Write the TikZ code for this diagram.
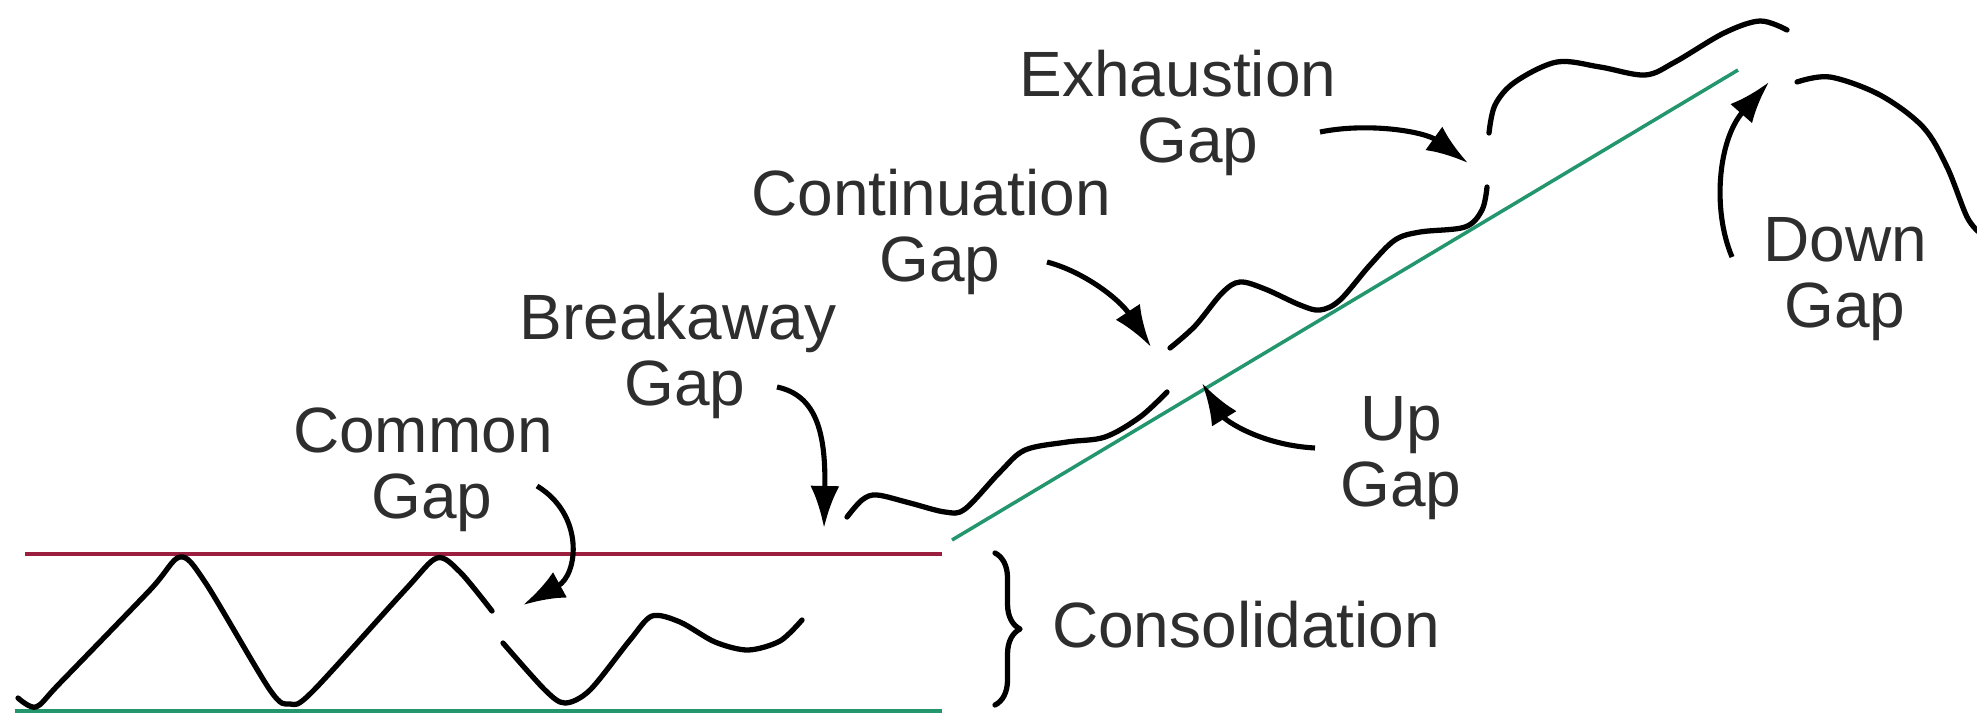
\documentclass[tikz,border=0pt]{standalone}
\usepackage{fontspec}
\setmainfont{Liberation Sans}
\usetikzlibrary{arrows.meta,decorations.pathreplacing}
\definecolor{resist}{RGB}{155,30,62}
\definecolor{support}{RGB}{35,150,110}
\begin{document}
\begin{tikzpicture}[x=0.01cm,y=-0.01cm,
  price/.style={line width=1.5pt,line cap=round,line join=round},
  gaparrow/.style={line width=1.45pt,-{Latex[length=0.42cm,width=0.29cm]}},
  lbl/.style={font=\fontsize{18.2}{18.7}\selectfont,align=center,inner sep=0pt,text=black!82},
  level/.style={line width=1pt}]
\useasboundingbox (0,0) rectangle (1977,715);

% support / resistance lines
\coordinate (rL) at (25,554);  \coordinate (rR) at (942,554);
\coordinate (sL) at (15,711);  \coordinate (sR) at (942,711);
\coordinate (tL) at (952,540); \coordinate (tR) at (1738,70);
\draw[level,resist] (rL) -- (rR);
\draw[level,support] (sL) -- (sR);
\draw[level,support] (tL) -- (tR);

% price path segments
\draw[price] plot[smooth,tension=0.5] coordinates {(18,698) (36,707) (60,683) (150,590) (180,557) (205,582) (270,690) (290,704) (312,692) (405,590) (437,558) (460,572) (492,611)};
\draw[price] plot[smooth,tension=0.5] coordinates {(503,643) (545,690) (565,703) (590,690) (630,640) (652,616) (680,622) (715,642) (748,650) (780,641) (802,620)};
\draw[price] plot[smooth,tension=0.55] coordinates {(847,517) (862,500) (877,495) (910,503) (945,512) (965,509) (1000,472) (1025,450) (1067,442) (1105,437) (1140,417) (1167,392)};
\draw[price] plot[smooth,tension=0.55] coordinates {(1170,348) (1195,326) (1222,293) (1240,282) (1265,289) (1300,305) (1320,310) (1340,300) (1370,265) (1395,240) (1420,232) (1465,227) (1482,210) (1487,187)};
\draw[price] plot[smooth,tension=0.55] coordinates {(1489,133) (1495,105) (1515,82) (1557,62) (1600,67) (1645,75) (1675,62) (1724,33) (1760,21) (1787,30)};
\draw[price] plot[smooth,tension=0.55] coordinates {(1797,82) (1830,77) (1880,95) (1923,127) (1947,167) (1967,217) (1980,233)};

% brace
\coordinate (bT) at (995,553); \coordinate (bB) at (995,705);
\draw[price,decorate,decoration={brace,amplitude=0.25cm}] (bT) -- (bB);

% labels
\node[lbl] (common) at (423,470) {Common\\\hspace*{0.18cm}Gap};
\node[lbl] (breakaway) at (678,356) {Breakaway\\\hspace*{0.14cm}Gap};
\node[lbl] (continuation) at (931,232) {Continuation\\\hspace*{0.18cm}Gap};
\node[lbl] (exhaustion) at (1178,113) {Exhaustion\\\hspace*{0.4cm}Gap};
\node[lbl] (up) at (1401,458) {Up\\Gap};
\node[lbl] (down) at (1845,279) {Down\\Gap};
\node[lbl] (consol) at (1246,625) {Consolidation};

% arrows
\coordinate (cgS) at (537,486);  \coordinate (cgT) at (523,605);
\coordinate (bgS) at (777,387);  \coordinate (bgT) at (824,528);
\coordinate (ngS) at (1047,262); \coordinate (ngT) at (1151,347);
\coordinate (egS) at (1320,132); \coordinate (egT) at (1468,163);
\coordinate (ugS) at (1315,448); \coordinate (ugT) at (1202,383);
\coordinate (dgS) at (1732,257); \coordinate (dgT) at (1769,82);
\draw[gaparrow] (cgS) .. controls (585,515) and (578,575) .. (cgT);
\draw[gaparrow] (bgS) .. controls (815,395) and (826,430) .. (bgT);
\draw[gaparrow] (ngS) .. controls (1085,272) and (1120,300) .. (ngT);
\draw[gaparrow] (egS) .. controls (1370,122) and (1425,132) .. (egT);
\draw[gaparrow] (ugS) .. controls (1260,445) and (1225,420) .. (ugT);
\draw[gaparrow] (dgS) .. controls (1712,210) and (1718,140) .. (dgT);
\end{tikzpicture}
\end{document}
